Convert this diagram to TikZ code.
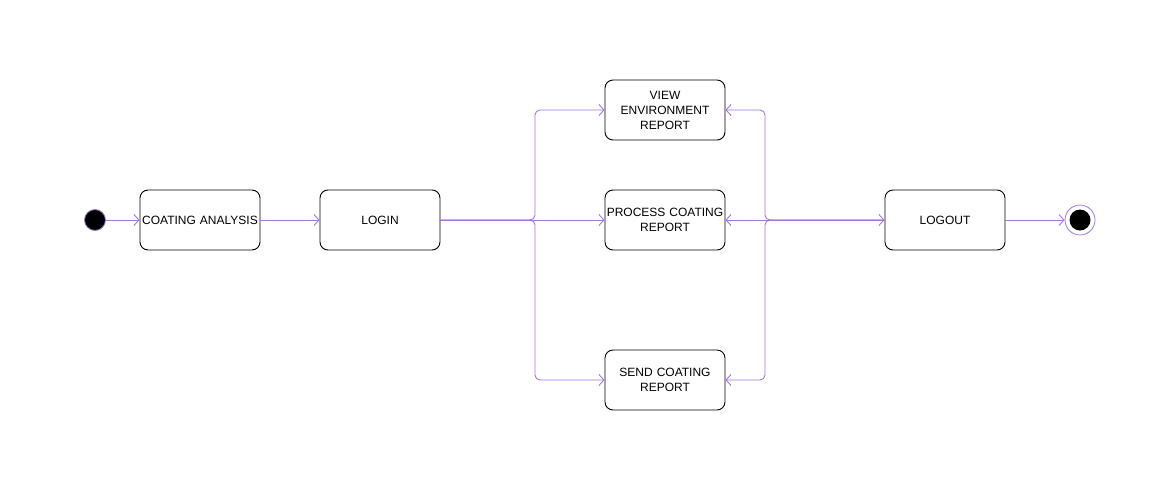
\documentclass[tikz,border=0pt]{standalone}
\usepackage{fontspec}
\setmainfont{Liberation Sans}
\usetikzlibrary{arrows.meta}
\definecolor{flow}{HTML}{A374E0}
\tikzset{
  activity/.style={draw=black, line width=0.9pt, rounded corners=8pt, minimum width=120pt, minimum height=60pt,
    align=center, inner sep=1pt, font=\fontsize{12pt}{15pt}\selectfont, text width=118pt},
  flowline/.style={draw=flow, line width=0.9pt, rounded corners=5pt,
    -{Straight Barb[length=5pt,width=11pt,line width=0.9pt]}},
}
\begin{document}
\begin{tikzpicture}[x=1pt,y=-1pt]
  \useasboundingbox (0,0) rectangle (1176,491);

  % start and final states
  \node[circle, fill=black, draw=flow, line width=0.8pt, minimum size=21pt, inner sep=0pt] (start) at (95,220) {};
  \node[circle, fill=white, draw=flow, line width=0.8pt, minimum size=30pt, inner sep=0pt] (final) at (1080,220) {};
  \node[circle, fill=black, minimum size=21pt, inner sep=0pt] (finaldot) at (1080,220) {};

  % activities
  \node[activity] (coat)    at (200,220) {COATING ANALYSIS};
  \node[activity] (login)   at (380,220) {LOGIN};
  \node[activity] (view)    at (665,110) {VIEW\\ENVIRONMENT\\REPORT};
  \node[activity] (process) at (665,220) {PROCESS COATING\\REPORT};
  \node[activity] (send)    at (665,380) {SEND COATING\\REPORT};
  \node[activity] (logout)  at (945,220) {LOGOUT};

  % branch and merge points
  \coordinate (fork)  at (535,220);
  \coordinate (merge) at (765,220);

  % transitions
  \draw[flowline] (start) -- (coat);
  \draw[flowline] (coat) -- (login);
  \draw[flowline] (login.east) -- (fork) |- (view.west);
  \draw[flowline] (login.east) -- (process.west);
  \draw[flowline] (login.east) -- (fork) |- (send.west);
  \draw[flowline] (logout.west) -- (merge) |- (view.east);
  \draw[flowline] (logout.west) -- (process.east);
  \draw[flowline] (logout.west) -- (merge) |- (send.east);
  \draw[flowline] (merge) -- (logout.west);
  \draw[flowline] (logout) -- (final);
\end{tikzpicture}
\end{document}
